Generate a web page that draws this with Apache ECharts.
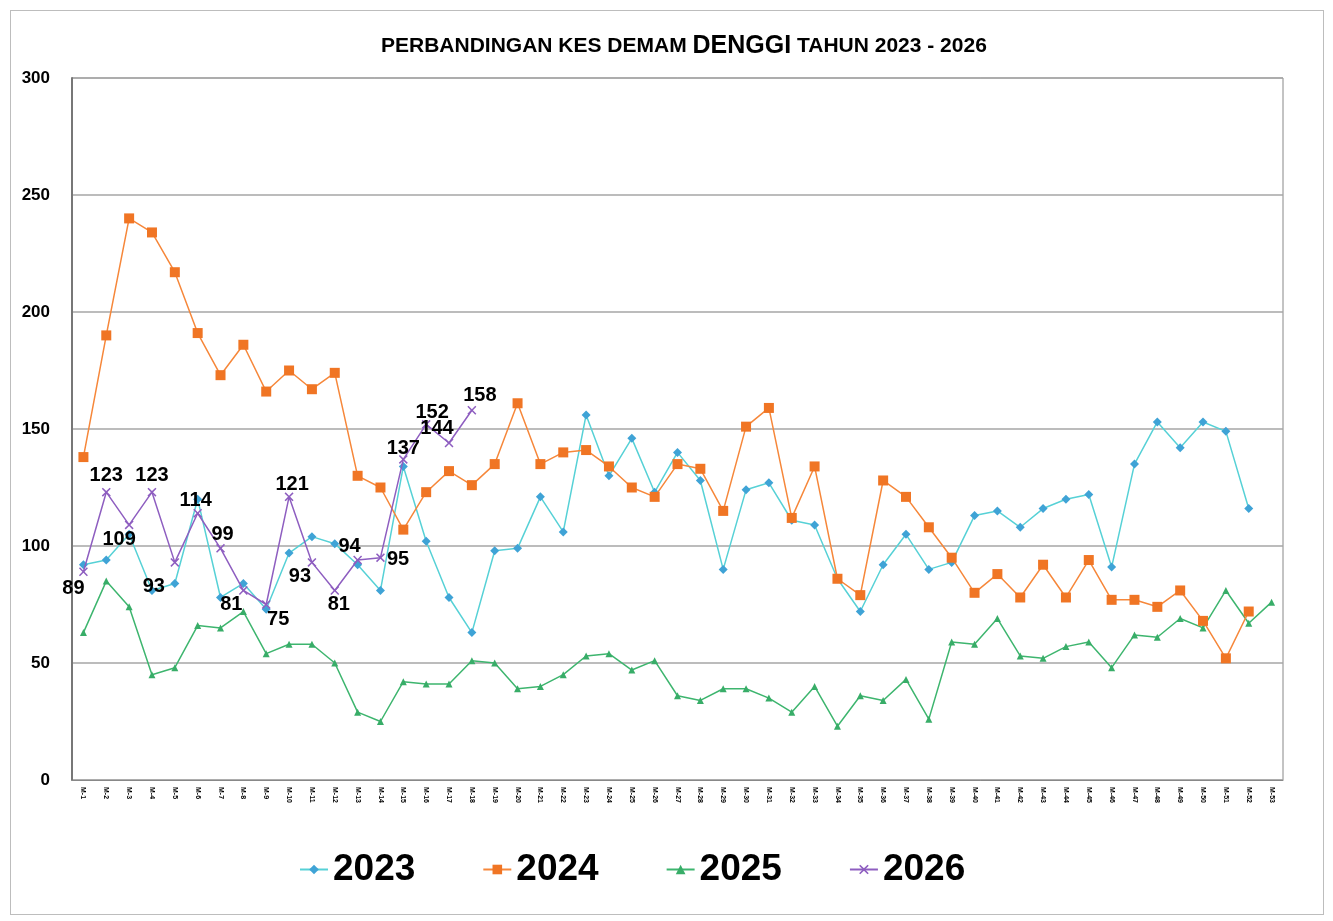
<!DOCTYPE html>
<html>
<head>
<meta charset="utf-8">
<script src="https://cdn.jsdelivr.net/npm/echarts@6/dist/echarts.min.js"></script>
<style>
html,body{margin:0;padding:0;background:#fff;}
#frame{position:absolute;left:10px;top:10px;width:1314px;height:905px;border:1px solid #bdbdbd;box-sizing:border-box;}
#chart{position:absolute;left:0;top:0;width:1333px;height:921px;}
</style>
</head>
<body>
<div id="frame"></div>
<div id="chart"></div>
<script>
const weeks = [];
for (let i = 1; i <= 53; i++) weeks.push('M-' + i);

const y2023 = [92,94,105,81,84,120,78,84,73,97,104,101,92,81,134,102,78,63,98,99,121,106,156,130,146,123,140,128,90,124,127,111,109,86,72,92,105,90,93,113,115,108,116,120,122,91,135,153,142,153,149,116,null];
const y2024 = [138,190,240,234,217,191,173,186,166,175,167,174,130,125,107,123,132,126,135,161,135,140,141,134,125,121,135,133,115,151,159,112,134,86,79,128,121,108,95,80,88,78,92,78,94,77,77,74,81,68,52,72,null];
const y2025 = [63,85,74,45,48,66,65,72,54,58,58,50,29,25,42,41,41,51,50,39,40,45,53,54,47,51,36,34,39,39,35,29,40,23,36,34,43,26,59,58,69,53,52,57,59,48,62,61,69,65,81,67,76];
const y2026 = [89,123,109,123,93,114,99,81,75,121,93,81,94,95,137,152,144,158];

const seriesNames = ['2023','2024','2025','2026'];
const yTicks = [0,50,100,150,200,250,300];

// label placement for the 2026 value labels
const labelPlace = [
  {p:'bottom',o:[-10,-2]},{p:'top',o:[0,2]},{p:'bottom',o:[-10,-4]},{p:'top',o:[0,2]},
  {p:'bottom',o:[-21,6]},{p:'top',o:[-2,6]},{p:'top',o:[2,5]},{p:'bottom',o:[-12,-4]},
  {p:'bottom',o:[12,-4]},{p:'top',o:[3,6]},{p:'bottom',o:[-12,-4]},{p:'bottom',o:[4,-4]},
  {p:'top',o:[-8,5]},{p:'right',o:[-2,2]},{p:'top',o:[0,8]},{p:'top',o:[6,7]},
  {p:'top',o:[-12,4]},{p:'top',o:[8,4]}
];

const xSym = 'path://M0,1.2 L1.2,0 L5,3.8 L8.8,0 L10,1.2 L6.2,5 L10,8.8 L8.8,10 L5,6.2 L1.2,10 L0,8.8 L3.8,5 Z';

const lblFont = '"Liberation Sans",Arial,sans-serif';

const chart = echarts.init(document.getElementById('chart'));
chart.setOption({
  animation:false,
  backgroundColor:'transparent',
  title:{
    text:'{a|PERBANDINGAN KES DEMAM }{b|DENGGI}{a| TAHUN 2023 - 2026}',
    left:376, top:29,
    textStyle:{
      rich:{
        a:{fontSize:21,fontWeight:'bold',color:'#000',fontFamily:lblFont},
        b:{fontSize:25,fontWeight:'bold',color:'#000',fontFamily:lblFont}
      }
    }
  },
  grid:{left:72,right:50,top:78,bottom:141,show:true,borderColor:'#888',borderWidth:1},
  legend:{
    left:294, top:846,
    itemWidth:28, itemHeight:12, itemGap:67,
    textStyle:{fontSize:37,fontWeight:'bold',color:'#000',fontFamily:lblFont},
    data:seriesNames
  },
  xAxis:{
    type:'category', data:weeks, boundaryGap:true,
    axisLine:{lineStyle:{color:'#888',width:1}},
    axisTick:{show:false},
    axisLabel:{rotate:-90,interval:0,fontSize:7,fontWeight:'bold',color:'#000',margin:7,fontFamily:'Arial,sans-serif'}
  },
  yAxis:{
    type:'value', min:yTicks[0], max:yTicks[yTicks.length-1], interval:50,
    axisLine:{show:true,lineStyle:{color:'#777',width:2}},
    axisTick:{show:false},
    splitLine:{lineStyle:{color:'#a6a6a6',width:1.5}},
    axisLabel:{fontSize:17,fontWeight:'bold',color:'#000',margin:22,fontFamily:lblFont}
  },
  series:[
    {name:seriesNames[0],type:'line',data:y2023,symbol:'diamond',symbolSize:9,
     lineStyle:{color:'#56D1D6',width:1.5},itemStyle:{color:'#3FA3D6'},color:'#56D1D6',z:2},
    {name:seriesNames[1],type:'line',data:y2024,symbol:'rect',symbolSize:10,
     lineStyle:{color:'#F6873A',width:1.5},itemStyle:{color:'#F07524'},color:'#F6873A',z:3},
    {name:seriesNames[2],type:'line',data:y2025,symbol:'triangle',symbolSize:7,
     lineStyle:{color:'#3DB56E',width:1.5},itemStyle:{color:'#38AD68'},color:'#3DB56E',z:2},
    {name:seriesNames[3],type:'line',symbol:xSym,symbolSize:9,
     lineStyle:{color:'#8E5EC0',width:1.5},itemStyle:{color:'#8E5EC0'},color:'#8E5EC0',z:4,
     data:y2026.map((v,i)=>({value:v,label:{show:true,position:labelPlace[i].p,offset:labelPlace[i].o}})),
     label:{show:true,fontSize:20,fontWeight:'bold',color:'#000',fontFamily:lblFont,distance:4}}
  ]
});
</script>
</body>
</html>
